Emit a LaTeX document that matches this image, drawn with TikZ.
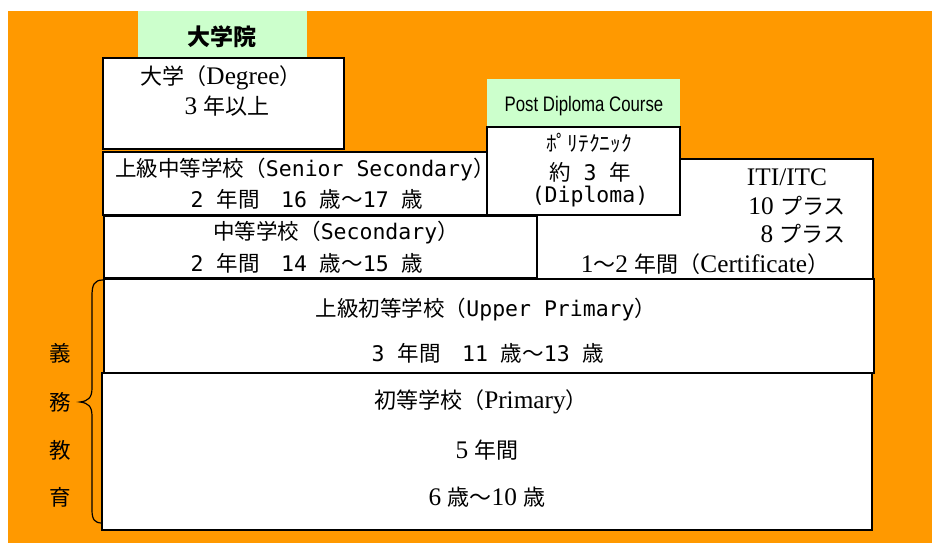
\documentclass[tikz,border=0pt]{standalone}
\usepackage{fontspec}
\setmainfont{Liberation Serif}[Scale=1.15]
\newfontfamily\jp{Noto Sans CJK JP}
\newfontfamily\mono{DejaVu Sans Mono}
\newfontfamily\narrowsans{Liberation Sans}[FakeStretch=0.8]
\newcommand\J[1]{{\jp #1}}
\newcommand\M[1]{{\mono #1}}
\definecolor{bgorange}{HTML}{FF9900}
\definecolor{paleGreen}{HTML}{CCFFCC}
\begin{document}
\begin{tikzpicture}[x=1pt,y=-1pt,
  box/.style={draw=black,line width=1.6pt,fill=white},
  greenbox/.style={fill=paleGreen},
  txt/.style={inner sep=0pt,font=\fontsize{22}{26}\selectfont},
  gtxt/.style={inner sep=0pt,font=\fontsize{21.5}{25}\selectfont\jp}]
\useasboundingbox (0,0) rectangle (932,543);
\fill[bgorange] (8,11) rectangle (932,543);
% green headers
\fill[greenbox] (138,11) rectangle (307,58);
\fill[greenbox] (487,79) rectangle (680,127);
% boxes
\path[box] (103,58) rectangle (344,149);
\path[box] (103,152) rectangle (488,215);
\path[box] (104,216) rectangle (537,278);
\path[box] (537,159) rectangle (873,279);
\path[box] (487,127) rectangle (680,215);
\path[box] (104,279) rectangle (874,373);
\path[box] (102,373) rectangle (872,530);
% texts
\node[inner sep=0pt,font=\fontsize{23}{27}\selectfont\jp\bfseries] (grad) at (222,37) {大学院};
\node[txt] (uni1) at (221,78) {\J{大学（}Degree\J{）}};
\node[txt] (uni2) at (227,106) {3 \J{年以上}};
\node[gtxt] (ss1) at (305,170) {上級中等学校（\M{Senior Secondary}）};
\node[gtxt] (ss2) at (307,199) {\M{2 }年間　\M{16 }歳～\M{17 }歳};
\node[gtxt] (sec1) at (336,233) {中等学校（\M{Secondary}）};
\node[gtxt] (sec2) at (307,263) {\M{2 }年間　\M{14 }歳～\M{15 }歳};
\node[inner sep=0pt,font=\fontsize{21}{25}\selectfont\narrowsans] (pdc) at (584,106) {Post Diploma Course};
\node[gtxt] (poly1) at (589,143) {ﾎﾟﾘﾃｸﾆｯｸ};
\node[gtxt] (poly2) at (590,172) {約\M{ 3 }年};
\node[gtxt] (poly3) at (590,197) {\M{(Diploma)}};
\node[txt] (iti1) at (787,177) {ITI/ITC};
\node[txt] (iti2) at (797,206) {10 \J{プラス}};
\node[txt] (iti3) at (803,234) {8 \J{プラス}};
\node[txt] (iti4) at (705,264) {1\J{～}2 \J{年間（}Certificate\J{）}};
\node[gtxt] (up1) at (486,310) {上級初等学校（\M{Upper Primary}）};
\node[gtxt] (up2) at (488,353) {\M{3 }年間　\M{11 }歳～\M{13 }歳};
\node[txt] (pr1) at (481,402) {\J{初等学校（}Primary\J{）}};
\node[txt] (pr2) at (487,450) {5 \J{年間}};
\node[txt] (pr3) at (487,497) {6 \J{歳～}10 \J{歳}};
% compulsory education
\node[gtxt] (gi) at (60,353) {義};
\node[gtxt] (mu) at (60,402) {務};
\node[gtxt] (kyo) at (60,450) {教};
\node[gtxt] (iku) at (60,497) {育};
% brace
\draw[line width=1.2pt] (103,280) .. controls (94,280) and (92,285) .. (92,296)
  -- (92,388) .. controls (92,398) and (88,401) .. (80,402)
  .. controls (88,403) and (92,406) .. (92,416)
  -- (92,510) .. controls (92,520) and (95,523) .. (102,523);
\end{tikzpicture}
\end{document}
